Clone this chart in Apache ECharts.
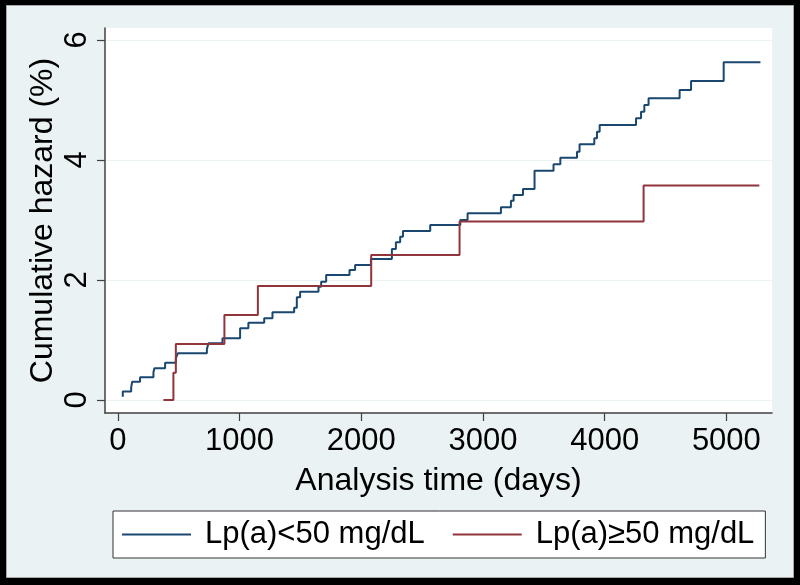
<!DOCTYPE html>
<html>
<head>
<meta charset="utf-8">
<script src="https://cdn.jsdelivr.net/npm/echarts@6/dist/echarts.min.js"></script>
<style>
html,body{margin:0;padding:0;background:#000;}
#chart{width:800px;height:585px;}
</style>
</head>
<body>
<div id="chart"></div>
<script>
// ---- Data ----
var seriesNames = ['Lp(a)<50 mg/dL', 'Lp(a)\u226550 mg/dL'];
var xTickValues = [0, 1000, 2000, 3000, 4000, 5000];
var yTickValues = [0, 2, 4, 6];

var lowTimes = [41, 41, 110, 118, 183, 293, 301, 389, 477, 493, 732, 745, 860, 1005, 1073, 1203, 1271, 1449, 1471, 1498, 1649, 1671, 1712, 1904, 1950, 2080, 2252, 2285, 2320, 2343, 2567, 2814, 2874, 3148, 3230, 3252, 3329, 3424, 3580, 3636, 3773, 3794, 3915, 3937, 3959, 4258, 4299, 4326, 4361, 4616, 4710, 4978, 5280];
var lowHazard = [0.055, 0.14, 0.205, 0.305, 0.378, 0.462, 0.528, 0.622, 0.695, 0.778, 0.845, 0.945, 1.028, 1.195, 1.288, 1.362, 1.462, 1.538, 1.712, 1.805, 1.888, 1.972, 2.083, 2.167, 2.25, 2.35, 2.517, 2.628, 2.722, 2.817, 2.917, 3.0, 3.112, 3.212, 3.322, 3.417, 3.517, 3.822, 3.928, 4.038, 4.138, 4.262, 4.362, 4.472, 4.583, 4.695, 4.805, 4.917, 5.028, 5.167, 5.317, 5.628, 5.628];

var highTimes = [375, 457, 477, 876, 1151, 2082, 2808, 4320, 5271];
var highHazard = [0, 0.455, 0.933, 1.417, 1.9, 2.417, 2.975, 3.575, 3.575];

function pairs(xs, ys) {
  var out = [];
  for (var i = 0; i < xs.length; i++) out.push([xs[i], ys[i]]);
  return out;
}

var FONT = "'Liberation Sans', Arial, sans-serif";
var chart = echarts.init(document.getElementById('chart'), null, {renderer: 'canvas'});
chart.setOption({
  backgroundColor: '#000',
  animation: false,
  graphic: [{
    type: 'rect',
    z: -10,
    silent: true,
    shape: {x: 6.5, y: 5.5, width: 787, height: 572},
    style: {fill: '#eaf2f3', stroke: '#a8a8a8', lineWidth: 1}
  }],
  grid: {
    left: 105, right: 28, top: 28, bottom: 172,
    show: true, backgroundColor: '#ffffff', borderWidth: 0
  },
  xAxis: {
    type: 'value',
    min: -105, max: 5375,
    name: 'Analysis time (days)',
    nameLocation: 'middle',
    nameGap: 52,
    nameMoveOverlap: false,
    nameTextStyle: {fontSize: 32, color: '#000', fontFamily: FONT},
    axisLine: {show: true, onZero: false, lineStyle: {color: '#404040', width: 1.5}},
    axisTick: {show: true, length: 8, customValues: xTickValues, lineStyle: {color: '#404040', width: 1.2}},
    axisLabel: {customValues: xTickValues, fontSize: 31, color: '#000', fontFamily: FONT, margin: 13,
      formatter: function (v) { return String(v); }},
    splitLine: {show: false}
  },
  yAxis: {
    type: 'value',
    min: -0.2167, max: 6.2,
    name: 'Cumulative hazard (%)',
    nameLocation: 'middle',
    nameGap: 46,
    nameMoveOverlap: false,
    nameTextStyle: {fontSize: 32, color: '#000', fontFamily: FONT},
    axisLine: {show: true, onZero: false, lineStyle: {color: '#404040', width: 1.5}},
    axisTick: {show: true, length: 8, customValues: yTickValues, lineStyle: {color: '#404040', width: 1.2}},
    axisLabel: {customValues: yTickValues, rotate: 90, fontSize: 31, color: '#000', fontFamily: FONT, margin: 12,
      formatter: function (v) { return String(v); }},
    splitLine: {show: true, lineStyle: {color: '#eaf2f3', width: 1.2}}
  },
  legend: {
    show: true,
    left: 113, top: 511,
    orient: 'horizontal',
    padding: [8, 11, 8, 9],
    itemGap: 28,
    itemWidth: 69,
    itemHeight: 2,
    icon: 'rect',
    backgroundColor: '#fff',
    borderColor: '#333',
    borderWidth: 1,
    textStyle: {fontSize: 31, color: '#000', fontFamily: FONT, padding: [0, 0, 0, 9]},
    data: seriesNames
  },
  series: [{
    name: seriesNames[0],
    type: 'line',
    step: 'end',
    showSymbol: false,
    symbol: 'none',
    color: '#1a476f',
    lineStyle: {color: '#1a476f', width: 2},
    data: pairs(lowTimes, lowHazard)
  }, {
    name: seriesNames[1],
    type: 'line',
    step: 'end',
    showSymbol: false,
    symbol: 'none',
    color: '#90353b',
    lineStyle: {color: '#90353b', width: 2},
    data: pairs(highTimes, highHazard)
  }]
});
</script>
</body>
</html>
